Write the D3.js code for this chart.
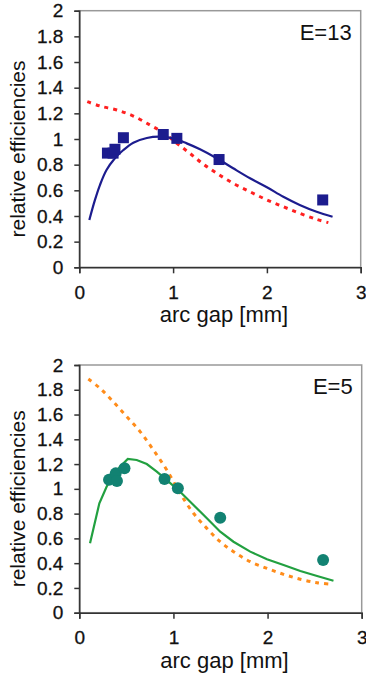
<!DOCTYPE html>
<html><head><meta charset="utf-8">
<script src="https://cdn.jsdelivr.net/npm/d3@7"></script>
<style>body{margin:0;background:#fff}svg{display:block}text{font-family:"Liberation Sans",Arial,sans-serif;fill:#111}</style>
</head><body>
<script>
// ----- data -----
const xTicks = [0, 1, 2, 3];
const yTicks = [0, 0.2, 0.4, 0.6, 0.8, 1, 1.2, 1.4, 1.6, 1.8, 2];
const yTickLabels = ["0","0.2","0.4","0.6","0.8","1","1.2","1.4","1.6","1.8","2"];

// E=13 panel
const e13Points = [[0.30,0.89],[0.36,0.89],[0.38,0.92],[0.47,1.01],[0.895,1.035],[1.04,1.005],[1.49,0.84],[2.595,0.525]];
const e13Fit = [[0.107,0.369],[0.167,0.525],[0.22,0.641],[0.29,0.758],[0.38,0.85],[0.47,0.914],[0.576,0.971],[0.72,1.008],[0.86,1.018],[1.0,1.005],[1.145,0.966],[1.287,0.92],[1.465,0.85],[1.64,0.772],[1.82,0.694],[2.0,0.624],[2.175,0.55],[2.35,0.486],[2.53,0.433],[2.70,0.394]];
const e13Model = [[0.085,1.291],[0.22,1.257],[0.40,1.226],[0.576,1.179],[0.754,1.109],[0.896,1.049],[1.04,0.966],[1.18,0.888],[1.32,0.805],[1.465,0.733],[1.64,0.655],[1.82,0.589],[2.0,0.525],[2.175,0.472],[2.35,0.421],[2.53,0.374],[2.655,0.348]];

// E=5 panel
const e5Points = [[0.316,1.074],[0.387,1.125],[0.40,1.063],[0.48,1.166],[0.905,1.08],[1.047,1.004],[1.497,0.767],[2.59,0.425]];
const e5Fit = [[0.114,0.56],[0.213,0.883],[0.29,1.017],[0.36,1.112],[0.433,1.179],[0.515,1.241],[0.61,1.233],[0.717,1.20],[0.823,1.139],[0.93,1.071],[1.071,0.977],[1.213,0.87],[1.355,0.762],[1.497,0.654],[1.638,0.573],[1.816,0.493],[1.994,0.431],[2.17,0.385],[2.348,0.337],[2.526,0.296],[2.70,0.258]];
const e5Model = [[0.096,1.887],[0.22,1.812],[0.36,1.704],[0.504,1.583],[0.646,1.462],[0.787,1.314],[0.93,1.152],[1.071,0.964],[1.213,0.803],[1.355,0.681],[1.497,0.573],[1.638,0.493],[1.816,0.412],[1.994,0.358],[2.17,0.31],[2.348,0.27],[2.526,0.242],[2.65,0.232]];

const svg = d3.select("body").append("svg").attr("width",366).attr("height",676);

function panel(cfg){
  const g = svg.append("g");
  const x = d3.scaleLinear().domain([0,3]).range([cfg.left, cfg.right]);
  const y = d3.scaleLinear().domain([0,2]).range([cfg.bottom, cfg.top]);
  g.append("rect").attr("x",cfg.left).attr("y",cfg.top)
   .attr("width",cfg.right-cfg.left).attr("height",cfg.bottom-cfg.top)
   .attr("fill","none").attr("stroke","#999").attr("stroke-width",1.5);
  const ya = g.append("g").attr("transform",`translate(${cfg.left},0)`)
    .call(d3.axisLeft(y).tickValues(yTicks).tickFormat((d,i)=>yTickLabels[i]).tickSize(5).tickPadding(11));
  ya.select(".domain").attr("stroke","#333").attr("stroke-width",1.5);
  ya.selectAll(".tick line").attr("stroke","#333").attr("stroke-width",1.5);
  ya.selectAll("text").style("font-size","19px").attr("fill","#111").attr("stroke","#111").attr("stroke-width",0.3)
    .style("font-family","'Liberation Sans',Arial,sans-serif");
  const xa = g.append("g").attr("transform",`translate(0,${cfg.bottom})`)
    .call(d3.axisBottom(x).tickValues(xTicks).tickFormat(d3.format("d")).tickSize(6).tickPadding(12));
  xa.select(".domain").attr("stroke","#333").attr("stroke-width",1.5);
  xa.selectAll(".tick line").attr("stroke","#333").attr("stroke-width",1.5);
  xa.selectAll("text").style("font-size","19px").attr("fill","#111").attr("stroke","#111").attr("stroke-width",0.3)
    .style("font-family","'Liberation Sans',Arial,sans-serif");
  g.append("text").attr("x",(cfg.left+cfg.right)/2+4).attr("y",cfg.bottom+55)
   .attr("text-anchor","middle").style("font-size","22px").text("arc gap [mm]");
  g.append("text").attr("transform",`translate(${cfg.ylabX},${(cfg.top+cfg.bottom)/2+10}) rotate(-90)`)
   .attr("text-anchor","middle").style("font-size","21px").text("relative efficiencies");
  g.append("text").attr("x",cfg.right-9).attr("y",cfg.top+29)
   .attr("text-anchor","end").style("font-size","22px").text(cfg.label);
  const line = d3.line().x(d=>x(d[0])).y(d=>y(d[1]));
  g.append("path").datum(cfg.model).attr("d",line.curve(d3.curveCatmullRom)).attr("fill","none")
   .attr("stroke",cfg.modelColor).attr("stroke-width",3).attr("stroke-dasharray","4,5");
  g.append("path").datum(cfg.fit).attr("d",line.curve(cfg.fitCurve)).attr("fill","none")
   .attr("stroke",cfg.fitColor).attr("stroke-width",2.2);
  if(cfg.square){
    g.selectAll("rect.pt").data(cfg.points).join("rect").attr("class","pt")
     .attr("x",d=>x(d[0])-5.5).attr("y",d=>y(d[1])-5.5).attr("width",11).attr("height",11)
     .attr("fill",cfg.pointColor);
  } else {
    g.selectAll("circle.pt").data(cfg.points).join("circle").attr("class","pt")
     .attr("cx",d=>x(d[0])).attr("cy",d=>y(d[1])).attr("r",6).attr("fill",cfg.pointColor);
  }
}

panel({left:79.3,right:360.7,top:10.7,bottom:267.3,ylabX:25,label:"E=13",
  model:e13Model,fit:e13Fit,points:e13Points,square:true,fitCurve:d3.curveCatmullRom,
  modelColor:"#ff2020",fitColor:"#1c1c8e",pointColor:"#1c1c8e"});
panel({left:79.3,right:361.7,top:365,bottom:612.7,ylabX:25,label:"E=5",
  model:e5Model,fit:e5Fit,points:e5Points,square:false,fitCurve:d3.curveLinear,
  modelColor:"#ff8c1a",fitColor:"#22a040",pointColor:"#128272"});
</script>
</body></html>
